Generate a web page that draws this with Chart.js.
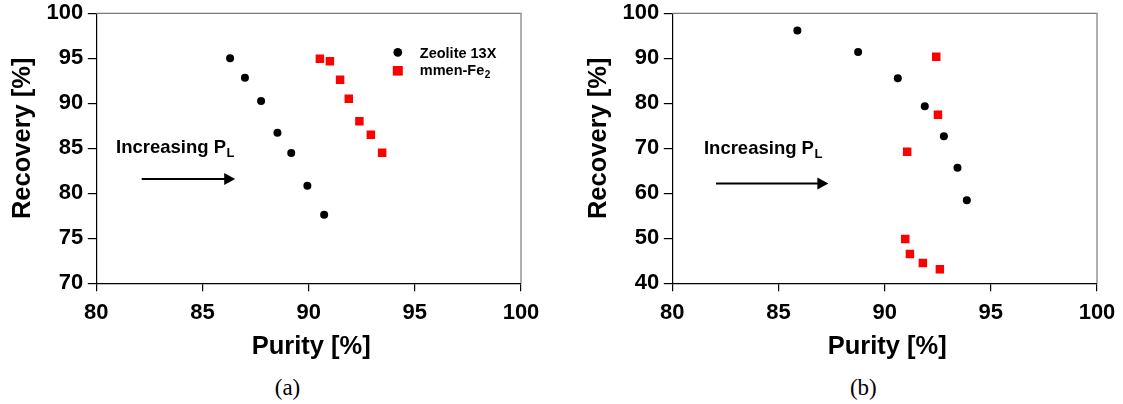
<!DOCTYPE html>
<html>
<head>
<meta charset="utf-8">
<script src="https://cdn.jsdelivr.net/npm/chart.js@4.4.1/dist/chart.umd.min.js"></script>
<style>
  html, body { margin: 0; padding: 0; background: #fff; width: 1123px; height: 404px; overflow: hidden; }
  .panel { position: absolute; top: 0; width: 547px; height: 370px; }
  .caption { position: absolute; top: 375px; width: 120px; text-align: center; line-height: 26px;
             font-family: "Liberation Serif", "DejaVu Serif", serif; font-size: 23px; color: #000; }
</style>
</head>
<body>
<div class="panel" style="left:0"><canvas id="chartA" width="547" height="370"></canvas></div>
<div class="panel" style="left:576px"><canvas id="chartB" width="547" height="370"></canvas></div>
<div class="caption" style="left:227.5px">(a)</div>
<div class="caption" style="left:803.3px">(b)</div>

<script>
// ---- Series values: panel (a) ----
const zeoliteA_purity   = [86.30, 87.00, 87.76, 88.53, 89.18, 89.94, 90.73];
const zeoliteA_recovery = [95.00, 92.85, 90.25, 86.73, 84.48, 80.84, 77.62];
const mmenA_purity      = [90.53, 91.00, 91.48, 91.89, 92.39, 92.93, 93.46];
const mmenA_recovery    = [94.96, 94.67, 92.62, 90.51, 88.00, 86.50, 84.50];

// ---- Series values: panel (b) ----
const zeoliteB_purity   = [85.89, 88.75, 90.62, 91.89, 92.79, 93.43, 93.87];
const zeoliteB_recovery = [96.20, 91.40, 85.56, 79.33, 72.67, 65.70, 58.44];
const mmenB_purity      = [92.43, 92.51, 91.06, 90.97, 91.19, 91.80, 92.60];
const mmenB_recovery    = [90.36, 77.47, 69.24, 49.84, 46.50, 44.50, 43.10];

// ---- Tick labels ----
const purityTicks    = [80, 85, 90, 95, 100];
const recoveryTicksA = [70, 75, 80, 85, 90, 95, 100];
const recoveryTicksB = [40, 50, 60, 70, 80, 90, 100];

// ---- Series names ----
const zeoliteName = 'Zeolite 13X';
const mmenName = 'mmen-Fe';
const mmenSub = '2';

const FONT = "'Liberation Sans', Arial, Helvetica, sans-serif";

function toPoints(xs, ys) { return xs.map((x, i) => ({ x: x, y: ys[i] })); }

// Gray frame on the top and right edges of the plot area
const framePlugin = {
  id: 'frame',
  beforeDatasetsDraw(chart) {
    const { ctx, chartArea: a } = chart;
    ctx.save();
    ctx.strokeStyle = '#7a7a7a';
    ctx.lineWidth = 1.2;
    ctx.beginPath();
    ctx.moveTo(a.left, a.top);
    ctx.lineTo(a.right, a.top);
    ctx.lineTo(a.right, a.bottom);
    ctx.stroke();
    ctx.restore();
  }
};

// Axis titles, placed relative to the plot area
const axisTitlePlugin = {
  id: 'axisTitles',
  afterDraw(chart, args, opts) {
    const { ctx, chartArea: a } = chart;
    ctx.save();
    ctx.fillStyle = '#000';
    ctx.font = 'bold 25.5px ' + FONT;
    ctx.textAlign = 'center';
    ctx.textBaseline = 'middle';
    ctx.fillText(opts.xText, (a.left + a.right) / 2 + 2.5, 347);
    ctx.translate(22.5, (a.top + a.bottom) / 2 - 10);
    ctx.rotate(-Math.PI / 2);
    ctx.fillText(opts.yText, 0, 0);
    ctx.restore();
  }
};

// "Increasing P_L" note with an arrow, placed in data coordinates
const notePlugin = {
  id: 'pressureNote',
  afterDatasetsDraw(chart, args, opts) {
    if (!opts || opts.textX === undefined) return;
    const { ctx, scales: { x, y } } = chart;
    ctx.save();
    ctx.fillStyle = '#000';
    ctx.strokeStyle = '#000';
    const tx = x.getPixelForValue(opts.textX);
    const ty = y.getPixelForValue(opts.textY);
    ctx.font = 'bold 18.5px ' + FONT;
    ctx.textBaseline = 'alphabetic';
    ctx.textAlign = 'left';
    const main = 'Increasing P';
    ctx.fillText(main, tx, ty);
    const w = ctx.measureText(main).width;
    ctx.font = 'bold 13px ' + FONT;
    ctx.fillText('L', tx + w + 0.5, ty + 4);

    const ax0 = x.getPixelForValue(opts.arrowFrom);
    const ax1 = x.getPixelForValue(opts.arrowTo);
    const ay = y.getPixelForValue(opts.arrowY);
    const head = 11;
    ctx.lineWidth = 2;
    ctx.beginPath();
    ctx.moveTo(ax0, ay);
    ctx.lineTo(ax1 - head + 1, ay);
    ctx.stroke();
    ctx.beginPath();
    ctx.moveTo(ax1, ay);
    ctx.lineTo(ax1 - head, ay - 6);
    ctx.lineTo(ax1 - head, ay + 6);
    ctx.closePath();
    ctx.fill();
    ctx.restore();
  }
};

// Legend drawn inside the plot area
const insideLegendPlugin = {
  id: 'insideLegend',
  afterDatasetsDraw(chart, args, opts) {
    if (!opts || !opts.show) return;
    const { ctx, chartArea: a } = chart;
    const ds = chart.data.datasets;
    const mx = a.left + 301.5;
    const tx = a.left + 323.5;
    const rows = [a.top + 39, a.top + 57.5];
    ctx.save();
    ctx.textAlign = 'left';
    ctx.textBaseline = 'alphabetic';
    ctx.fillStyle = ds[0].backgroundColor;
    ctx.beginPath();
    ctx.arc(mx, rows[0], 4.4, 0, Math.PI * 2);
    ctx.fill();
    ctx.fillStyle = ds[1].backgroundColor;
    ctx.fillRect(mx - 5, rows[1] - 4.8, 10, 9.6);
    ctx.fillStyle = '#000';
    ctx.font = 'bold 14.5px ' + FONT;
    ctx.fillText(ds[0].label, tx, rows[0] + 5.2);
    ctx.fillText(mmenName, tx, rows[1] + 4.5);
    const w = ctx.measureText(mmenName).width;
    ctx.font = 'bold 10px ' + FONT;
    ctx.fillText(mmenSub, tx + w + 0.5, rows[1] + 7.5);
    ctx.restore();
  }
};

function buildChart(id, cfg) {
  const tickFont = { family: FONT, size: 22, weight: 'bold' };
  return new Chart(document.getElementById(id), {
    type: 'scatter',
    data: {
      datasets: [
        { label: zeoliteName, data: toPoints(cfg.zx, cfg.zy), pointStyle: 'circle',
          pointRadius: 4, pointHoverRadius: 4, backgroundColor: '#000000', borderWidth: 0 },
        { label: mmenName + mmenSub, data: toPoints(cfg.mx, cfg.my), pointStyle: 'rect',
          pointRadius: 6, pointHoverRadius: 6, backgroundColor: '#ff0000', borderWidth: 0 }
      ]
    },
    options: {
      responsive: false,
      animation: false,
      events: [],
      layout: { padding: { left: 0, right: 26, top: 13.3, bottom: 0 } },
      plugins: {
        legend: { display: false },
        tooltip: { enabled: false },
        pressureNote: cfg.note,
        insideLegend: { show: cfg.legend },
        axisTitles: { xText: 'Purity [%]', yText: 'Recovery [%]' }
      },
      scales: {
        x: {
          type: 'linear', min: 80, max: 100,
          afterBuildTicks: s => { s.ticks = purityTicks.map(v => ({ value: v })); },
          afterFit: s => { s.height = 86.7; s.paddingLeft = 0; s.paddingRight = 0; },
          ticks: { font: tickFont, color: '#000', padding: 8, maxRotation: 0 },
          grid: { display: true, drawOnChartArea: false, drawTicks: true, tickLength: 8,
                  color: '#000', lineWidth: 1.2 },
          border: { display: true, color: '#000', width: 1.2 },
          title: { display: false }
        },
        y: {
          type: 'linear', min: cfg.yTicks[0], max: cfg.yTicks[cfg.yTicks.length - 1],
          afterBuildTicks: s => { s.ticks = cfg.yTicks.map(v => ({ value: v })); },
          afterFit: s => { s.width = 96.3; s.paddingTop = 0; s.paddingBottom = 0; },
          ticks: { font: tickFont, color: '#000', padding: 4.5 },
          grid: { display: true, drawOnChartArea: false, drawTicks: true, tickLength: 8.5,
                  color: '#000', lineWidth: 1.2 },
          border: { display: true, color: '#000', width: 1.2 },
          title: { display: false }
        }
      }
    },
    plugins: [framePlugin, notePlugin, insideLegendPlugin, axisTitlePlugin]
  });
}

buildChart('chartA', {
  zx: zeoliteA_purity, zy: zeoliteA_recovery,
  mx: mmenA_purity, my: mmenA_recovery,
  yTicks: recoveryTicksA,
  legend: true,
  note: { textX: 80.93, textY: 84.51, arrowFrom: 82.14, arrowTo: 86.54, arrowY: 81.59 }
});

buildChart('chartB', {
  zx: zeoliteB_purity, zy: zeoliteB_recovery,
  mx: mmenB_purity, my: mmenB_recovery,
  yTicks: recoveryTicksB,
  legend: false,
  note: { textX: 81.49, textY: 68.84, arrowFrom: 82.06, arrowTo: 87.35, arrowY: 62.2 }
});
</script>
</body>
</html>
